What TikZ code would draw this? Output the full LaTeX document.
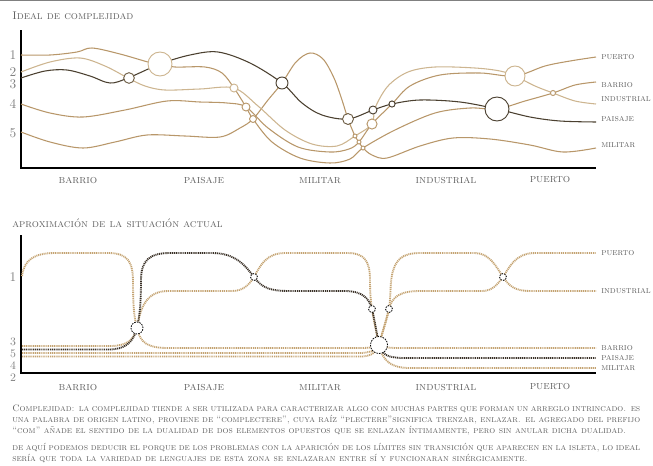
\documentclass[tikz,border=0pt]{standalone}
\usepackage{fontspec}
\definecolor{tanc}{HTML}{B8976A}
\definecolor{tanlight}{HTML}{CDB590}
\definecolor{darkc}{HTML}{4B4030}
\definecolor{midc}{HTML}{6E5E45}
\definecolor{txt}{HTML}{626262}
\definecolor{dtan}{HTML}{C4A372}
\definecolor{ddark}{HTML}{3A3127}
\begin{document}
\begin{tikzpicture}[x=0.75pt,y=-0.75pt,
  curve/.style={line width=0.8pt, smooth, tension=0.55},
  dots/.style={line width=1.4pt, dash pattern=on 0.8pt off 0.6pt},
  ring/.style={fill=white, line width=0.7pt},
  dring/.style={fill=white, draw=black, line width=0.6pt, dash pattern=on 1.2pt off 0.8pt},
  axis/.style={draw=black, line width=1.2pt},
  title/.style={text=txt, font=\fontsize{8.4}{10}\selectfont\scshape, inner sep=0pt, anchor=west},
  xlab/.style={text=txt, font=\fontsize{8.7}{10}\selectfont\scshape, inner sep=0pt},
  rlab/.style={text=txt, font=\fontsize{7.1}{8}\selectfont\scshape, inner sep=0pt, anchor=west},
  num/.style={text=txt!80, font=\fontsize{10}{10}\selectfont, inner sep=0pt},
  snum/.style={text=txt!80, font=\fontsize{8.6}{9}\selectfont, inner sep=0pt},
  para/.style={text=txt, font=\fontsize{7}{8}\selectfont\scshape, inner sep=0pt, anchor=west}]
\useasboundingbox (0,0) rectangle (653,465);
\draw[gray, line width=1pt] (0,0.7) -- (653,0.7);

% ---------- top chart ----------
\node[title] (t1) at (12,16) {Ideal de complejidad};
\draw[axis] (21,30) -- (21,168) -- (596,168);
\foreach \n/\yy in {1/55,2/72,3/84,4/104,5/133} \node[num] (ln\n) at (13,\yy) {\n};
\foreach \t/\xx in {barrio/78,paisaje/204,militar/320,industrial/446,puerto/550}
  \node[xlab] (xa\t) at (\xx,180) {\t};
\node[rlab] (ra1) at (601,57) {puerto};
\node[rlab] (ra2) at (601,85) {barrio};
\node[rlab] (ra3) at (601,99) {industrial};
\node[rlab] (ra4) at (601,119) {paisaje};
\node[rlab] (ra5) at (601,145) {militar};

% T5 -> militar
\draw[tanc, curve] plot coordinates {(21,132) (50,142) (83,148) (115,142) (147,135) (185,136) (220,137) (240,128) (253,119) (268,100) (282,83) (296,62) (310,53) (323,59) (334,78) (342,100) (348,119) (355,136) (359,142) (363,148) (372,155) (387,158) (420,146) (453,138) (490,139) (530,145) (563,152) (596,148)};
% T4 -> puerto
\draw[tanc, curve] plot coordinates {(21,104) (50,113) (83,117) (125,110) (167,101) (200,102) (227,103) (246,107) (268,128) (298,147) (330,152) (349,149) (359,142) (372,124) (392,104) (410,86) (440,75) (480,73) (515,76) (545,66) (570,61) (596,57)};
% T2 -> industrial
\draw[tanlight, curve] plot coordinates {(21,72) (50,62) (80,58) (105,66) (128,78) (145,86) (165,90) (200,89) (234,88) (258,106) (285,130) (312,144) (337,146) (355,136) (372,124) (375,108) (388,86) (408,72) (435,67) (475,68) (500,71) (515,76) (535,86) (553,93) (575,101) (596,104)};
% T1 -> barrio
\draw[tanc, curve] plot coordinates {(21,55) (50,55) (77,52) (92,48) (120,54) (148,62) (160,64) (175,67) (205,67) (222,73) (234,88) (246,107) (253,119) (272,142) (300,158) (330,163) (350,159) (363,148) (395,130) (435,113) (470,108) (497,109) (525,101) (553,93) (575,85) (596,82)};
% D -> paisaje
\draw[darkc, curve] plot coordinates {(21,78) (45,71) (67,70) (90,76) (110,83) (128,78) (160,64) (190,55) (218,52) (250,63) (282,83) (302,103) (322,115) (348,119) (373,110) (392,104) (420,100) (460,102) (497,109) (530,117) (560,121) (596,122)};

\draw[ring, draw=tanlight] (160,64) circle[radius=9pt];
\draw[ring, draw=midc] (129,78) circle[radius=4pt];
\draw[ring, draw=darkc] (282,83) circle[radius=4.5pt];
\draw[ring, draw=tanlight] (234,88) circle[radius=3pt];
\draw[ring, draw=tanc] (246,107) circle[radius=3pt];
\draw[ring, draw=tanc] (253,119) circle[radius=2.6pt];
\draw[ring, draw=midc] (348,119) circle[radius=4.1pt];
\draw[ring, draw=darkc] (373,110) circle[radius=3pt];
\draw[ring, draw=darkc] (392,104) circle[radius=2.3pt];
\draw[ring, draw=tanc] (372,124) circle[radius=3.8pt];
\draw[ring, draw=tanc] (355,136) circle[radius=1.5pt];
\draw[ring, draw=tanc] (359,142) circle[radius=1.5pt];
\draw[ring, draw=tanc] (363,148) circle[radius=1.5pt];
\draw[ring, draw=tanlight] (515,76) circle[radius=7.5pt];
\draw[ring, draw=darkc] (497,109) circle[radius=9pt];
\draw[ring, draw=tanc] (553,93) circle[radius=1.9pt];

% ---------- bottom chart ----------
\node[title] (t2) at (12,223) {aproximación de la situación actual};
\draw[axis, line width=1.5pt] (21,235) -- (21,373) -- (596,373);
\node[num] (bn1) at (13,277) {1};
\node[snum] (bn3) at (13,342) {3};
\node[snum] (bn5) at (13,354) {5};
\node[snum] (bn4) at (13,366) {4};
\node[snum] (bn2) at (13,378) {2};
\foreach \t/\xx in {barrio/78,paisaje/204,militar/320,industrial/446,puerto/550}
  \node[xlab] (xb\t) at (\xx,387) {\t};
\node[rlab] (rb1) at (601,253) {puerto};
\node[rlab] (rb2) at (601,291) {industrial};
\node[rlab] (rb3) at (601,348) {barrio};
\node[rlab] (rb4) at (601,358) {paisaje};
\node[rlab] (rb5) at (601,368) {militar};

% X1 -> barrio
\draw[dtan, dots] (22,276) .. controls (24,260) and (34,253) .. (55,253) -- (108,253)
  .. controls (128,253) and (133,262) .. (133,282) .. controls (133,312) and (135,320) .. (137,328)
  .. controls (140,343) and (148,348) .. (168,348) -- (362,348) .. controls (372,348) and (375,346) .. (379,345)
  .. controls (384,347) and (388,348) .. (398,348) -- (596,348);
% X3 -> militar
\draw[dtan, dots] (22,346) -- (110,346) .. controls (127,346) and (134,340) .. (137,328)
  .. controls (140,310) and (145,291) .. (168,291) -- (232,291) .. controls (243,291) and (249,285) .. (254,277)
  .. controls (260,266) and (266,253) .. (285,253) -- (348,253) .. controls (365,253) and (370,262) .. (370,280)
  .. controls (370,295) and (371,302) .. (372,309) .. controls (374,322) and (377,335) .. (379,345)
  .. controls (383,362) and (392,368) .. (410,368) -- (596,368);
% X4 -> industrial
\draw[dtan, dots] (22,353) -- (362,353) .. controls (372,352) and (377,350) .. (379,345)
  .. controls (383,330) and (387,320) .. (389,309) .. controls (391,295) and (390,285) .. (392,275)
  .. controls (395,260) and (402,253) .. (420,253) -- (475,253) .. controls (490,253) and (497,268) .. (503,277)
  .. controls (509,286) and (515,291) .. (530,291) -- (596,291);
% X5 -> puerto
\draw[dtan, dots] (22,356.5) -- (362,356.5) .. controls (372,356) and (376,352) .. (379,345)
  .. controls (383,330) and (386,320) .. (389,309) .. controls (392,298) and (398,291) .. (420,291)
  -- (482,291) .. controls (492,291) and (497,285) .. (503,277) .. controls (509,268) and (515,253) .. (535,253) -- (596,253);
% X2 -> paisaje (dark)
\draw[ddark, dots] (22,349.5) -- (108,349.5) .. controls (125,349.5) and (133,343) .. (137,328)
  .. controls (140,315) and (141,300) .. (141,280) .. controls (141,260) and (150,253) .. (170,253) -- (212,253)
  .. controls (235,253) and (245,265) .. (254,277) .. controls (262,288) and (270,291) .. (290,291) -- (345,291)
  .. controls (362,291) and (369,298) .. (372,309) .. controls (375,322) and (377,335) .. (379,345)
  .. controls (382,355) and (388,358) .. (405,358) -- (596,358);

\draw[dring] (137,328) circle[radius=4.5pt];
\draw[dring] (254,277) circle[radius=2.6pt];
\draw[dring] (372,309) circle[radius=2.6pt];
\draw[dring] (389,309) circle[radius=2.6pt];
\draw[dring] (379,345) circle[radius=6.4pt];
\draw[dring] (503,277) circle[radius=2.6pt];

% ---------- text ----------
\node[para] (p1) at (12,409) {\makebox[471pt][s]{Complejidad: la complejidad tiende a ser utilizada para caracterizar algo con muchas partes que forman un arreglo intrincado. es}};
\node[para] (p2) at (12,420) {\makebox[471pt][s]{una palabra de origen latino, proviene de “complectere”, cuya raíz “plectere”significa trenzar, enlazar. el agregado del prefijo}};
\node[para] (p3) at (12,431) {“com” añade el sentido de la dualidad de dos elementos opuestos que se enlazan íntimamente, pero sin anular dicha dualidad.};
\node[para] (p4) at (12,448) {\makebox[471pt][s]{de aquí podemos deducir el porque de los problemas con la aparición de los límites sin transición que aparecen en la isleta, lo ideal}};
\node[para] (p5) at (12,459) {sería que toda la variedad de lenguajes de esta zona se enlazaran entre sí y funcionaran sinérgicamente.};
\end{tikzpicture}
\end{document}
